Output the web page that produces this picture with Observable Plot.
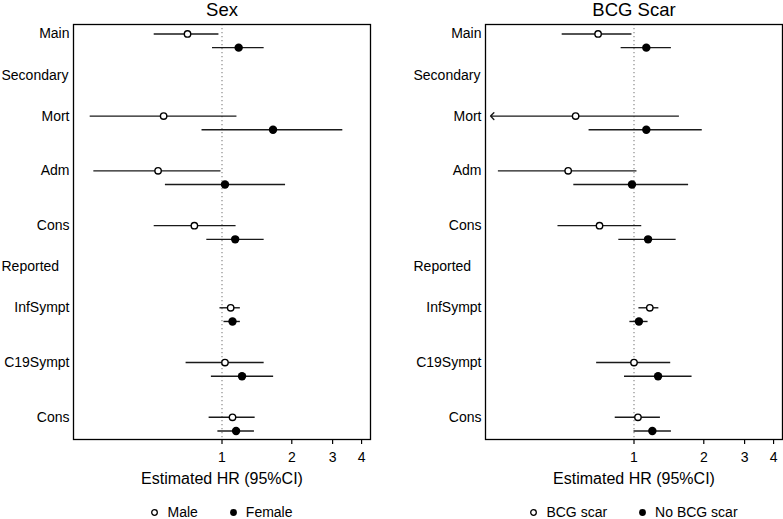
<!DOCTYPE html>
<html>
<head>
<meta charset="utf-8">
<script src="https://cdn.jsdelivr.net/npm/d3@7"></script>
<script src="https://cdn.jsdelivr.net/npm/@observablehq/plot@0.6"></script>
<style>
  html, body { margin: 0; padding: 0; background: white; }
  #wrap { position: relative; width: 783px; height: 519px; overflow: hidden; font-family: 'Liberation Sans', Arial, Helvetica, sans-serif; }
  .panel { position: absolute; top: 0; }
  .legend { position: absolute; top: 504px; height: 16px; line-height: 13px; display: flex; justify-content: center; align-items: center; gap: 31px; font-size: 14px; color: black; }
  .legend .item { display: flex; align-items: center; }
  .legend .item span { margin-left: 8px; }
</style>
</head>
<body>
<div id="wrap"></div>
<script>
// ---- data ----
const rowLabels = ["Main", "Secondary", "Mort", "Adm", "Cons", "Reported", "InfSympt", "C19Sympt", "Cons"];
const rowIsHeading = [false, true, false, false, false, true, false, false, false];
const xTicks = [1, 2, 3, 4];

const sexTitle = "Sex";
const sexGroups = ["Male", "Female"];
const sexEst1 = [0.71, 0.56, 0.53, 0.76, 1.09, 1.03, 1.11];
const sexLo1  = [0.51, 0.27, 0.28, 0.51, 0.98, 0.70, 0.88];
const sexHi1  = [0.97, 1.16, 0.99, 1.15, 1.20, 1.52, 1.39];
const sexEst2 = [1.18, 1.66, 1.03, 1.14, 1.11, 1.22, 1.15];
const sexLo2  = [0.91, 0.82, 0.57, 0.86, 1.02, 0.90, 0.96];
const sexHi2  = [1.52, 3.32, 1.88, 1.52, 1.20, 1.67, 1.38];

const bcgTitle = "BCG Scar";
const bcgGroups = ["BCG scar", "No BCG scar"];
const bcgEst1 = [0.70, 0.56, 0.52, 0.71, 1.17, 1.00, 1.04];
const bcgLo1  = [0.49, 0.15, 0.26, 0.47, 1.05, 0.69, 0.83];
const bcgHi1  = [0.98, 1.57, 1.03, 1.08, 1.28, 1.44, 1.30];
const bcgEst2 = [1.13, 1.13, 0.98, 1.15, 1.05, 1.27, 1.20];
const bcgLo2  = [0.88, 0.64, 0.55, 0.86, 0.96, 0.91, 1.00];
const bcgHi2  = [1.45, 1.97, 1.72, 1.52, 1.15, 1.78, 1.45];

// ---- layout ----
const fontFamily = "'Liberation Sans', Arial, Helvetica, sans-serif";
const xDomain = [Math.exp(-1.475), Math.exp(1.475)];
const yDomain = [-0.69, 29.62];
const H = 490;

// row positions: 3 units around headings, 4 units between outcomes
const rows = [];
let p = 0;
rowLabels.forEach((label, i) => {
  if (i > 0) p += (rowIsHeading[i] || rowIsHeading[i - 1]) ? 3 : 4;
  rows.push({label, heading: rowIsHeading[i], pos: p});
});
const outcomeRows = rows.filter(r => !r.heading);

function makePanel(title, est1, lo1, hi1, est2, lo2, hi2, width, marginLeft, marginRight) {
  const floor = xDomain[0] * Math.exp(0.05);
  const pts = [];
  outcomeRows.forEach((r, i) => {
    pts.push({g: 0, y: r.pos, est: est1[i], lo: lo1[i], hi: hi1[i]});
    pts.push({g: 1, y: r.pos + 1, est: est2[i], lo: lo2[i], hi: hi2[i]});
  });
  const inRange = pts.filter(d => d.lo >= xDomain[0]);
  const trunc = pts.filter(d => d.lo < xDomain[0]);
  return Plot.plot({
    width, height: H,
    marginTop: 24, marginBottom: 51, marginLeft, marginRight,
    x: {type: "log", domain: xDomain},
    y: {domain: yDomain, reverse: true, axis: null},
    style: {fontFamily, fontSize: "14px", color: "black", background: "white", overflow: "visible"},
    marks: [
      Plot.ruleX([1], {stroke: "#8a8a8a", strokeWidth: 1.2, strokeDasharray: "1.3,2.7"}),
      Plot.ruleY(inRange, {y: "y", x1: "lo", x2: "hi", stroke: "#1a1a1a", strokeWidth: 1.4}),
      Plot.ruleY(trunc, {y: "y", x1: "est", x2: "hi", stroke: "#1a1a1a", strokeWidth: 1.4}),
      Plot.arrow(trunc, {y1: "y", y2: "y", x1: "est", x2: () => floor, stroke: "#1a1a1a", strokeWidth: 1.4, headLength: 5, headAngle: 90, bend: 0}),
      Plot.dot(pts.filter(d => d.g === 0), {x: "est", y: "y", r: 3.2, fill: "white", stroke: "black", strokeWidth: 1.4}),
      Plot.dot(pts.filter(d => d.g === 1), {x: "est", y: "y", r: 4.2, fill: "black", stroke: "none"}),
      Plot.frame({stroke: "black", strokeWidth: 1.3}),
      Plot.axisX({ticks: xTicks, tickFormat: d => String(d), tickSize: 5, tickPadding: 8, fontSize: 14, label: null, stroke: "black", strokeWidth: 1.2}),
      Plot.text(rows.filter(r => !r.heading), {y: "pos", text: "label", frameAnchor: "left", textAnchor: "end", dx: -4, fontSize: 14}),
      Plot.text(rows.filter(r => r.heading), {y: "pos", text: "label", frameAnchor: "left", textAnchor: "start", dx: -72, fontSize: 14}),
      Plot.text([title], {text: d => d, frameAnchor: "top", lineAnchor: "middle", dy: -14.5, fontSize: 18.5}),
      Plot.text(["Estimated HR (95%CI)"], {text: d => d, frameAnchor: "bottom", lineAnchor: "middle", dy: 39, fontSize: 16})
    ]
  });
}

function makeLegend(groups, left, width) {
  const div = document.createElement("div");
  div.className = "legend";
  div.style.left = left + "px";
  div.style.width = width + "px";
  groups.forEach((g, i) => {
    const item = document.createElement("div");
    item.className = "item";
    const filled = i === 1;
    item.innerHTML = `<svg width="9" height="9"><circle cx="4.5" cy="4.5" r="${filled ? 3.4 : 2.8}" fill="${filled ? "black" : "white"}" stroke="black" stroke-width="${filled ? 0 : 1.3}"/></svg><span>${g}</span>`;
    div.appendChild(item);
  });
  return div;
}

const wrap = document.getElementById("wrap");
const left = makePanel(sexTitle, sexEst1, sexLo1, sexHi1, sexEst2, sexLo2, sexHi2, 391, 73, 21);
left.classList.add("panel"); left.style.left = "0px";
wrap.appendChild(left);
wrap.appendChild(makeLegend(sexGroups, 73, 297));

const right = makePanel(bcgTitle, bcgEst1, bcgLo1, bcgHi1, bcgEst2, bcgLo2, bcgHi2, 392, 94, 1);
right.classList.add("panel"); right.style.left = "391px";
wrap.appendChild(right);
wrap.appendChild(makeLegend(bcgGroups, 391 + 94, 297));
</script>
</body>
</html>
